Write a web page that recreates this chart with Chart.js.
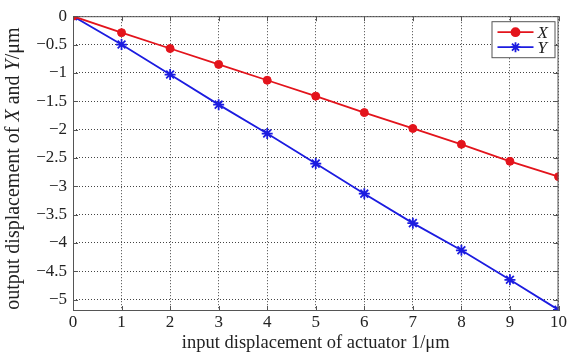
<!DOCTYPE html>
<html>
<head>
<meta charset="utf-8">
<script src="https://cdn.jsdelivr.net/npm/chart.js@4"></script>
<style>
  html, body { margin: 0; padding: 0; background: #fff; }
  #wrap { width: 568px; height: 354px; }
</style>
</head>
<body>
<div id="wrap"><canvas id="dispChart" width="568" height="354"></canvas></div>
<script>
// input displacement (µm)
const inputs = [0, 1, 2, 3, 4, 5, 6, 7, 8, 9, 10];
// output displacement X and Y (µm)
const outX = [0, -0.29, -0.57, -0.85, -1.13, -1.41, -1.70, -1.98, -2.26, -2.56, -2.83];
const outY = [0, -0.50, -1.03, -1.56, -2.07, -2.60, -3.13, -3.65, -4.13, -4.65, -5.18];
const yTicks = [0, -0.5, -1, -1.5, -2, -2.5, -3, -3.5, -4, -4.5, -5];
// y title pieces: [text, italic]
const yTitle = [['output displacement of ', false], ['X', true], [' and ', false], ['Y', true], ['/μm', false]];

const serif = "'Liberation Serif', 'DejaVu Serif', serif";
const redCol = '#e3141c';
const blueCol = '#1c1ce0';

// box around the plot, y title, legend in the top right corner (MATLAB style)
const boxLegend = {
    id: 'boxLegend',
    afterDatasetsDraw(chart) {
        const { ctx, chartArea: a } = chart;
        ctx.save();
        ctx.strokeStyle = '#555';
        ctx.lineWidth = 1;
        ctx.strokeRect(a.left + 0.5, a.top + 0.5, a.right - a.left - 1, a.bottom - a.top - 1);

        // small inward ticks
        const xs = chart.scales.x, ys = chart.scales.y;
        ctx.beginPath();
        inputs.forEach(v => {
            const px = Math.round(xs.getPixelForValue(v)) + 0.5;
            ctx.moveTo(px, a.bottom); ctx.lineTo(px, a.bottom - 5);
            ctx.moveTo(px, a.top); ctx.lineTo(px, a.top + 5);
        });
        yTicks.forEach(v => {
            const py = Math.round(ys.getPixelForValue(v)) + 0.5;
            ctx.moveTo(a.left, py); ctx.lineTo(a.left + 5, py);
            ctx.moveTo(a.right, py); ctx.lineTo(a.right - 5, py);
        });
        ctx.stroke();

        // y axis title with italic X and Y
        ctx.save();
        ctx.translate(14, (a.top + a.bottom) / 2 + 5);
        ctx.rotate(-Math.PI / 2);
        ctx.fillStyle = '#222';
        ctx.textBaseline = 'middle';
        ctx.textAlign = 'left';
        const fontOf = it => (it ? 'italic ' : '') + '20px ' + serif;
        let total = 0;
        yTitle.forEach(([t, it]) => { ctx.font = fontOf(it); total += ctx.measureText(t).width; });
        let x0 = -total / 2;
        yTitle.forEach(([t, it]) => {
            ctx.font = fontOf(it);
            ctx.fillText(t, x0, 0);
            x0 += ctx.measureText(t).width;
        });
        ctx.restore();

        // legend
        const w = 63, h = 36;
        const lx = a.right - 67, ly = a.top + 5;
        ctx.fillStyle = '#fff';
        ctx.fillRect(lx, ly, w, h);
        ctx.strokeStyle = '#555';
        ctx.lineWidth = 1;
        ctx.strokeRect(lx + 0.5, ly + 0.5, w, h);
        const items = [
            { label: 'X', color: redCol, style: 'circle', r: 4 },
            { label: 'Y', color: blueCol, style: 'star', r: 5 }
        ];
        items.forEach((it, i) => {
            const cy = ly + 11 + i * 15;
            ctx.strokeStyle = it.color;
            ctx.lineWidth = 1.8;
            ctx.beginPath();
            ctx.moveTo(lx + 6, cy); ctx.lineTo(lx + 42, cy);
            ctx.stroke();
            ctx.fillStyle = it.color;
            Chart.helpers.drawPoint(ctx, { pointStyle: it.style, radius: it.r, rotation: 0, borderWidth: 1.8 }, lx + 24, cy);
            ctx.fillStyle = '#222';
            ctx.font = 'italic 17px ' + serif;
            ctx.textBaseline = 'middle';
            ctx.textAlign = 'left';
            ctx.fillText(it.label, lx + 46, cy + 1);
        });
        ctx.restore();
    }
};

const ctx = document.getElementById('dispChart').getContext('2d');
const dispChart = new Chart(ctx, {
    type: 'line',
    data: {
        labels: inputs,
        datasets: [{
            label: 'X',
            data: inputs.map((v, i) => ({ x: v, y: outX[i] })),
            borderColor: redCol,
            backgroundColor: redCol,
            borderWidth: 1.8,
            pointStyle: 'circle',
            pointRadius: 4,
            pointBorderWidth: 1,
            tension: 0
        }, {
            label: 'Y',
            data: inputs.map((v, i) => ({ x: v, y: outY[i] })),
            borderColor: blueCol,
            backgroundColor: blueCol,
            borderWidth: 1.8,
            pointStyle: 'star',
            pointRadius: 5.5,
            pointBorderWidth: 1.8,
            tension: 0
        }]
    },
    options: {
        responsive: false,
        animation: false,
        layout: { padding: { top: 16, right: 5, left: 0, bottom: 0 } },
        plugins: {
            legend: { display: false },
            tooltip: { enabled: false }
        },
        scales: {
            x: {
                type: 'linear',
                min: 0,
                max: 10,
                afterBuildTicks: s => { s.ticks = inputs.map(v => ({ value: v })); },
                afterFit: s => { s.height = 43; },
                grid: { color: '#444', lineWidth: 1, drawTicks: false },
                border: { display: false, dash: [1, 2] },
                ticks: {
                    color: '#222',
                    padding: 1,
                    maxRotation: 0,
                    font: { family: serif, size: 17 }
                },
                title: {
                    display: true,
                    text: 'input displacement of actuator 1/μm',
                    color: '#222',
                    padding: { top: 0, bottom: 0 },
                    font: { family: serif, size: 18.5 }
                }
            },
            y: {
                min: -5.2,
                max: 0,
                afterBuildTicks: s => { s.ticks = yTicks.map(v => ({ value: v })); },
                afterFit: s => { s.width = 73; },
                grid: { color: '#444', lineWidth: 1, drawTicks: false },
                border: { display: false, dash: [1, 2] },
                ticks: {
                    color: '#222',
                    padding: 6,
                    font: { family: serif, size: 17 },
                    callback: v => (v < 0 ? '\u2212' + Math.abs(v) : '' + v)
                }
            }
        }
    },
    plugins: [boxLegend]
});
</script>
</body>
</html>
